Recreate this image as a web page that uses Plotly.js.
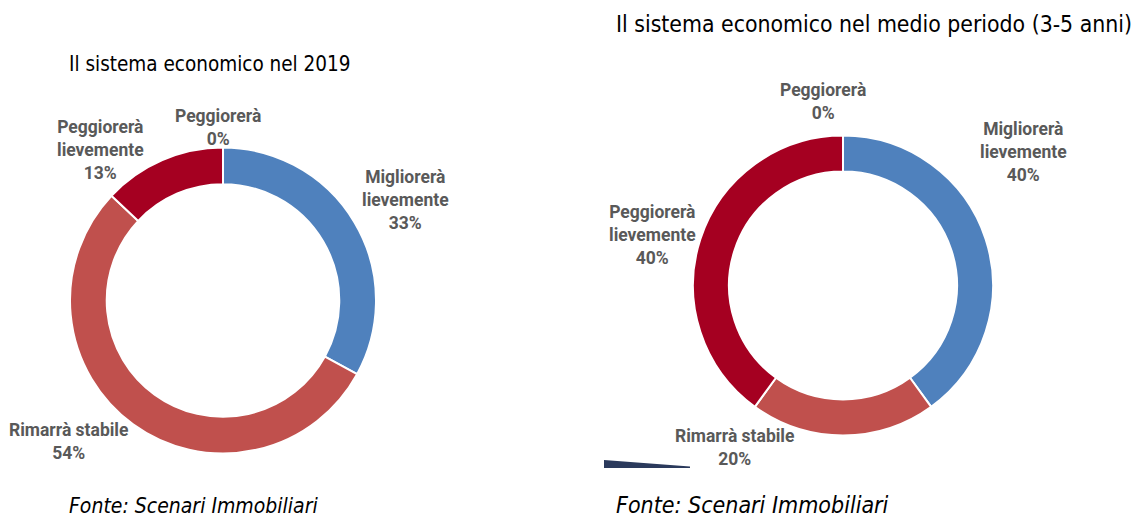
<!DOCTYPE html>
<html>
<head>
<meta charset="utf-8">
<script src="https://cdn.plot.ly/plotly-3.0.1.min.js"></script>
<style>
html,body{margin:0;padding:0;background:#fff;}
#chart{width:1137px;height:517px;}
</style>
</head>
<body>
<div id="chart"></div>
<script>
// ---- data ----
const categories = ["Migliorerà lievemente", "Rimarrà stabile", "Peggiorerà lievemente", "Peggiorerà"];
const values2019 = [33, 54, 13, 0];
const valuesMedio = [40, 20, 40, 0];
const sliceColors = ["#4F81BD", "#C0504D", "#A50021", "#7F0018"];
const title2019 = "Il sistema economico nel 2019";
const titleMedio = "Il sistema economico nel medio periodo (3-5 anni)";
const sourceText = "Fonte: Scenari Immobiliari";

// ---- layout helpers (pixel -> paper) ----
const W = 1137, H = 517;
const px = x => x / W;
const py = y => 1 - y / H;

function domainFor(cx, cy, r) {
  return { x: [px(cx - r), px(cx + r)], y: [py(cy + r), py(cy - r)] };
}

function pieTrace(values, dom) {
  return {
    type: "pie",
    labels: categories,
    values: values,
    sort: false,
    direction: "clockwise",
    rotation: 0,
    hole: 0.76,
    textinfo: "none",
    marker: { colors: sliceColors, line: { color: "#ffffff", width: 2 } },
    domain: dom,
    showlegend: false
  };
}

const labelFont = { family: "Roboto, Liberation Sans, sans-serif", size: 17.5, color: "#595959", weight: 700 };

function labelText(i, values) {
  return "<b>" + categories[i].replace(" lievemente", "<br>lievemente") + "<br>" + values[i] + "%</b>";
}

// label centre positions (pixels) per slice index
const pos2019 = [[405, 200], [68, 441], [100, 150], [218, 128]];
const posMedio = [[1023, 152], [734, 447], [652, 235], [823, 101]];

const annotations = [];
[[values2019, pos2019], [valuesMedio, posMedio]].forEach(([vals, pos]) => {
  vals.forEach((v, i) => {
    annotations.push({
      xref: "paper", yref: "paper",
      x: px(pos[i][0]), y: py(pos[i][1]),
      xanchor: "center", yanchor: "middle",
      text: labelText(i, vals),
      showarrow: false,
      align: "center",
      font: labelFont
    });
  });
});

const titleFamily = "DejaVu Sans Condensed, DejaVu Sans, sans-serif";
annotations.push({ xref: "paper", yref: "paper", x: px(67), y: py(64), xanchor: "left", yanchor: "middle",
  text: title2019, showarrow: false, font: { family: titleFamily, size: 20.5, color: "#000" } });
annotations.push({ xref: "paper", yref: "paper", x: px(614), y: py(24), xanchor: "left", yanchor: "middle",
  text: titleMedio, showarrow: false, font: { family: titleFamily, size: 22.8, color: "#000" } });
annotations.push({ xref: "paper", yref: "paper", x: px(67), y: py(520), xanchor: "left", yanchor: "bottom",
  text: "<i>" + sourceText + "</i>", showarrow: false, font: { family: titleFamily, size: 21, color: "#000" } });
annotations.push({ xref: "paper", yref: "paper", x: px(614), y: py(520), xanchor: "left", yanchor: "bottom",
  text: "<i>" + sourceText + "</i>", showarrow: false, font: { family: titleFamily, size: 23, color: "#000" } });

const shapes = [{
  type: "path", xref: "paper", yref: "paper",
  path: `M ${px(604)} ${py(460)} L ${px(690)} ${py(466.5)} L ${px(690)} ${py(468)} L ${px(604)} ${py(468)} Z`,
  fillcolor: "#2B3A5C", line: { width: 0 }
}];

const data = [
  pieTrace(values2019, domainFor(223, 300.5, 153)),
  pieTrace(valuesMedio, domainFor(843, 285.5, 150))
];

const layout = {
  width: W, height: H,
  margin: { l: 0, r: 0, t: 0, b: 0 },
  paper_bgcolor: "#ffffff",
  plot_bgcolor: "#ffffff",
  annotations: annotations,
  shapes: shapes
};

Plotly.newPlot("chart", data, layout, { displayModeBar: false, staticPlot: true });
</script>
</body>
</html>
